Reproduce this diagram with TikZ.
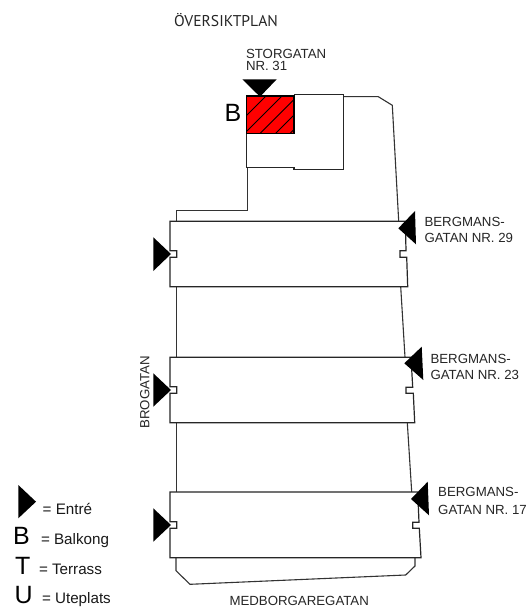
\documentclass[tikz,border=0pt]{standalone}
\usepackage{fontspec}
\setmainfont{Liberation Sans}
\newfontfamily\titlefont{PT Sans}
\definecolor{linegray}{gray}{0.2}
\tikzset{
  lbl/.style={anchor=base west,inner sep=0pt,outer sep=0pt,font=\fontsize{13.25}{13}\selectfont,text=black!85},
  leg/.style={anchor=base west,inner sep=0pt,outer sep=0pt,font=\fontsize{15.2}{15}\selectfont,text=black!90},
  big/.style={anchor=base west,inner sep=0pt,outer sep=0pt,font=\fontsize{25}{25}\selectfont},
  wall/.style={draw=linegray,line width=1.1pt,line join=miter},
  bld/.style={draw=black!85,line width=1.2pt,fill=white,line join=miter},
  tri/.style={fill=black,draw=none}
}
\begin{document}
\begin{tikzpicture}[x=1pt,y=-1pt]
\useasboundingbox[fill=white] (0,0) rectangle (528,609);
% lot lines
\draw[wall] (343.3,96.7) -- (378.3,96.7) -- (392.3,105.3) -- (398.7,221.3);
\draw[wall] (247.7,167.3) -- (247.7,210.7) -- (176.7,210.7) -- (176.7,221.3);
\draw[wall] (176.7,286.7) -- (176.7,357.3);
\draw[wall] (400.7,286.7) -- (405,357.3);
\draw[wall] (176.7,422.7) -- (176.7,492);
\draw[wall] (407.3,422.7) -- (411.7,492);
\draw[wall] (176,557.7) -- (176,570.7) -- (190,584.3) -- (405.7,575) -- (415,566) -- (415,557.7);
% upper house
\draw[bld] (294,94.3) -- (343.3,94.3) -- (343.3,169.3) -- (294,169.3) -- (294,167.3) -- (246.7,167.3) -- (246.7,133.3);
\fill[red] (246.7,96) rectangle (294,133.3);
\begin{scope}
\clip (246.7,96) rectangle (294,133.3);
\foreach \c in {362,378,393.5,409,423.5}{
  \draw[black,line width=0.8pt] ({\c-140},140) -- ({\c-90},90);
}
\end{scope}
\draw[black,line width=1.2pt] (246.7,96) rectangle (294,133.3);
% buildings
\draw[bld] (170,221.3) -- (405.3,221.3) -- (406,250.7) -- (400,250.7) -- (400,257.3) -- (406.7,257.3) -- (407.7,286.7) -- (170,286.7) -- (170,257.3) -- (176.7,257.3) -- (176.7,250.7) -- (170,250.7) -- cycle;
\draw[bld] (170,357.3) -- (411,357.3) -- (412.7,387.3) -- (406,387.3) -- (406,393.3) -- (413.3,393.3) -- (414.7,422.7) -- (170,422.7) -- (170,393.3) -- (176.7,393.3) -- (176.7,386.7) -- (170,386.7) -- cycle;
\draw[bld] (170,492) -- (417.7,492) -- (419,522.3) -- (412.7,522.3) -- (412.7,528.3) -- (419.3,528.3) -- (421,557.7) -- (170,557.7) -- (170,528.3) -- (176.7,528.3) -- (176.7,521.7) -- (170,521.7) -- cycle;
% entrances
\fill[tri] (242.3,79.3) -- (276.7,79.3) -- (260,96.7) -- cycle;
\fill[tri] (153.3,237.3) -- (171,254) -- (153.3,271) -- cycle;
\fill[tri] (153.3,373.3) -- (171,390) -- (153.3,406.7) -- cycle;
\fill[tri] (153.3,508.3) -- (171,525) -- (153.3,541.7) -- cycle;
\fill[tri] (398.3,228.3) -- (415,211) -- (416,244.3) -- cycle;
\fill[tri] (404.3,363.3) -- (421.7,346.7) -- (423.3,380) -- cycle;
\fill[tri] (411,499) -- (427.7,481.7) -- (429,515.3) -- cycle;
\fill[tri] (18.3,485) -- (36,501.7) -- (18.3,518.3) -- cycle;
% texts
\node[anchor=base west,inner sep=0pt,font=\titlefont\fontsize{15.6}{16}\selectfont,text=black!85] (title) at (174,26.7) {ÖVERSIKTPLAN};
\node[lbl] (st1) at (246,58.3) {STORGATAN};
\node[lbl] (st2) at (246,71) {NR. 31};
\node[big] (b) at (224.5,122) {B};
\node[lbl] (b29a) at (424.5,226.7) {BERGMANS-};
\node[lbl] (b29b) at (424.5,242.3) {GATAN NR. 29};
\node[lbl] (b23a) at (430.5,363.3) {BERGMANS-};
\node[lbl] (b23b) at (430.5,379) {GATAN NR. 23};
\node[lbl] (b17a) at (438.2,496.7) {BERGMANS-};
\node[lbl] (b17b) at (438.2,514) {GATAN NR. 17};
\node[lbl,rotate=90] (bro) at (149.3,428.5) {BROGATAN};
\node[lbl] (med) at (229.5,605) {MEDBORGAREGATAN};
\node[leg] (l1) at (42.7,514) {= Entré};
\node[big] (lb) at (13,544.5) {B};
\node[leg] (l2) at (41,544) {= Balkong};
\node[big] (lt) at (15,574.5) {T};
\node[leg] (l3) at (39,574) {= Terrass};
\node[big] (lu) at (14.5,603) {U};
\node[leg] (l4) at (42,603.5) {= Uteplats};
\end{tikzpicture}
\end{document}
